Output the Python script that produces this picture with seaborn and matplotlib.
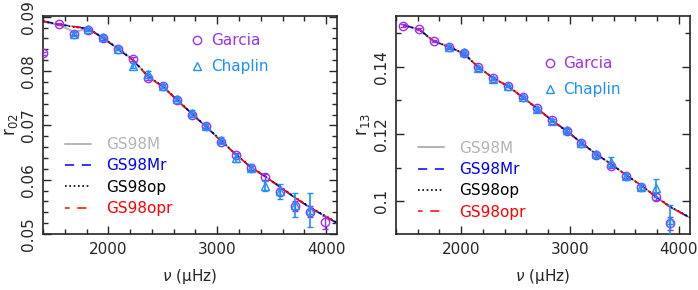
import numpy as np
import matplotlib
matplotlib.use("Agg")
import matplotlib.pyplot as plt
from matplotlib.lines import Line2D
from matplotlib.ticker import MultipleLocator, FormatStrFormatter
import seaborn as sns

# ---- data ----
# r02 panel
nu_g02 = [1403, 1550, 1685, 1817, 1955, 2093, 2231, 2363, 2498, 2630, 2764, 2900, 3035, 3169, 3307, 3440, 3574, 3712, 3850, 3988]
r02_g = [0.0833, 0.0887, 0.0869, 0.0876, 0.0860, 0.0840, 0.0822, 0.0787, 0.0772, 0.0747, 0.0719, 0.0699, 0.0670, 0.0645, 0.0622, 0.0605, 0.0578, 0.0551, 0.0541, 0.0522]
e02_g = [0.0003, 0.0002, 0.0002, 0.0002, 0.0002, 0.0002, 0.0003, 0.0003, 0.0003, 0.0003, 0.0003, 0.0003, 0.0003, 0.0004, 0.0004, 0.0005, 0.0007, 0.0009, 0.0010, 0.0012]
nu_c02 = [1685, 1817, 1955, 2093, 2231, 2363, 2498, 2630, 2764, 2900, 3035, 3169, 3307, 3440, 3574, 3712, 3850]
r02_c = [0.0868, 0.0877, 0.0863, 0.0841, 0.0810, 0.0795, 0.0773, 0.0748, 0.0723, 0.0698, 0.0674, 0.0640, 0.0622, 0.0588, 0.0579, 0.0553, 0.0544]
e02_c = [0.0003, 0.0003, 0.0003, 0.0003, 0.0005, 0.0005, 0.0004, 0.0004, 0.0005, 0.0005, 0.0005, 0.0007, 0.0006, 0.0009, 0.0014, 0.0022, 0.0031]

nu_m02 = [1400, 1550, 1685, 1817, 1955, 2093, 2231, 2363, 2498, 2630, 2764, 2900, 3035, 3169, 3307, 3440, 3574, 3712, 3850, 3988, 4110]
r02_M = [0.0891, 0.0885, 0.0872, 0.0878, 0.0861, 0.0841, 0.0820, 0.0790, 0.0772, 0.0747, 0.0722, 0.0697, 0.0672, 0.0647, 0.0623, 0.0606, 0.0587, 0.0567, 0.0549, 0.0533, 0.0519]
r02_Mr = [0.0892, 0.0886, 0.0882, 0.0878, 0.0860, 0.0840, 0.0819, 0.0790, 0.0772, 0.0747, 0.0722, 0.0697, 0.0672, 0.0647, 0.0623, 0.0606, 0.0587, 0.0567, 0.0549, 0.0533, 0.0519]
r02_op = [0.0891, 0.0886, 0.0881, 0.0878, 0.0861, 0.0841, 0.0820, 0.0791, 0.0772, 0.0748, 0.0722, 0.0698, 0.0672, 0.0647, 0.0624, 0.0606, 0.0588, 0.0568, 0.0550, 0.0534, 0.0520]
r02_opr = [0.0892, 0.0886, 0.0882, 0.0878, 0.0860, 0.0840, 0.0819, 0.0790, 0.0771, 0.0747, 0.0721, 0.0697, 0.0671, 0.0647, 0.0623, 0.0606, 0.0587, 0.0567, 0.0549, 0.0533, 0.0519]

# r13 panel
nu_g13 = [1470, 1615, 1747, 1886, 2024, 2157, 2296, 2430, 2566, 2695, 2831, 2970, 3102, 3240, 3379, 3517, 3649, 3788, 3923]
r13_g = [0.1522, 0.1512, 0.1477, 0.1458, 0.1440, 0.1398, 0.1365, 0.1343, 0.1309, 0.1277, 0.1241, 0.1209, 0.1172, 0.1136, 0.1104, 0.1075, 0.1041, 0.1013, 0.0934]
e13_g = [0.0004, 0.0004, 0.0004, 0.0004, 0.0004, 0.0004, 0.0004, 0.0004, 0.0004, 0.0004, 0.0004, 0.0005, 0.0005, 0.0005, 0.0006, 0.0007, 0.0008, 0.0010, 0.0020]
nu_c13 = [1886, 2024, 2157, 2296, 2430, 2566, 2695, 2831, 2970, 3102, 3240, 3379, 3517, 3649, 3788, 3923]
r13_c = [0.1460, 0.1444, 0.1396, 0.1364, 0.1343, 0.1310, 0.1274, 0.1239, 0.1211, 0.1173, 0.1139, 0.1117, 0.1074, 0.1042, 0.1038, 0.0944]
e13_c = [0.0004, 0.0005, 0.0004, 0.0004, 0.0004, 0.0004, 0.0005, 0.0005, 0.0006, 0.0006, 0.0007, 0.0015, 0.0008, 0.0010, 0.0027, 0.0045]

nu_m13 = [1470, 1615, 1747, 1886, 2024, 2157, 2296, 2430, 2566, 2695, 2831, 2970, 3102, 3240, 3379, 3517, 3649, 3788, 3923, 4110]
r13_M = [0.1524, 0.1511, 0.1475, 0.1462, 0.1436, 0.1401, 0.1366, 0.1342, 0.1309, 0.1276, 0.1241, 0.1208, 0.1174, 0.1140, 0.1110, 0.1077, 0.1048, 0.1013, 0.0982, 0.0949]
r13_Mr = [0.1524, 0.1511, 0.1477, 0.1458, 0.1441, 0.1398, 0.1366, 0.1342, 0.1309, 0.1277, 0.1241, 0.1209, 0.1174, 0.1140, 0.1110, 0.1077, 0.1048, 0.1013, 0.0982, 0.0949]
r13_op = [0.1524, 0.1511, 0.1476, 0.1459, 0.1440, 0.1399, 0.1366, 0.1343, 0.1309, 0.1276, 0.1241, 0.1208, 0.1175, 0.1140, 0.1110, 0.1077, 0.1048, 0.1014, 0.0983, 0.0950]
r13_opr = [0.1524, 0.1511, 0.1477, 0.1458, 0.1441, 0.1398, 0.1366, 0.1342, 0.1309, 0.1277, 0.1241, 0.1209, 0.1174, 0.1140, 0.1110, 0.1077, 0.1048, 0.1013, 0.0982, 0.0949]

model_names = ["GS98M", "GS98Mr", "GS98op", "GS98opr"]
model_colors = ["#b4b4b4", "#0000ff", "#000000", "#ff0000"]
model_styles = ["-", (0, (6, 5)), (0, (1, 1.6)), (3, (6, 5))]
model_widths = [1.4, 1.1, 1.2, 1.1]
c_garcia = "#9a32f0"
c_chaplin = "#1e90ff"

sns.set_style("ticks")
plt.rcParams["font.family"] = ["DejaVu Sans"]
plt.rcParams["font.size"] = 11
plt.rcParams["mathtext.fontset"] = "dejavusans"

fig = plt.figure(figsize=(6.98, 2.90), dpi=100)
ax1 = fig.add_axes([0.0616, 0.193, 0.4212, 0.753])
ax2 = fig.add_axes([0.567, 0.193, 0.4212, 0.753])


def panel(ax, nu_m, models, nu_g, rg, eg, nu_c, rc, ec, ylim, ymaj, ymin, fmt, ylab, leg1_y, leg2_y):
    for y, col, ls, lw in zip(models, model_colors, model_styles, model_widths):
        sns.lineplot(x=nu_m, y=y, ax=ax, color=col, linestyle=ls, linewidth=lw,
                     sort=False, legend=False, zorder=2)
    ax.errorbar(nu_g, rg, yerr=eg, fmt="o", ms=6, mfc="none", mec=c_garcia,
                mew=1.0, ecolor=c_garcia, elinewidth=1.0, capsize=2.5, zorder=3)
    ax.errorbar(nu_c, rc, yerr=ec, fmt="^", ms=5.5, mfc="none", mec=c_chaplin,
                mew=1.0, ecolor=c_chaplin, elinewidth=1.2, capsize=2.5, zorder=4)

    ax.set_xlim(1400, 4100)
    ax.set_ylim(*ylim)
    ax.xaxis.set_major_locator(MultipleLocator(1000))
    ax.xaxis.set_minor_locator(MultipleLocator(200))
    ax.yaxis.set_major_locator(MultipleLocator(ymaj))
    ax.yaxis.set_minor_locator(MultipleLocator(ymin))
    ax.yaxis.set_major_formatter(FormatStrFormatter(fmt))
    ax.tick_params(which="both", direction="in", top=True, right=True, width=1.0)
    ax.tick_params(which="major", length=6)
    ax.tick_params(which="minor", length=3.5)
    ax.tick_params(axis="x", pad=6)
    ax.tick_params(axis="y", labelrotation=90, pad=5)
    for lab in ax.get_yticklabels():
        lab.set_va("center")
    for sp in ax.spines.values():
        sp.set_linewidth(1.2)
    ax.set_xlabel("$\\nu$ (μHz)", labelpad=7)
    ax.set_ylabel(r"r$_{02}$" if ylab == "02" else r"r$_{13}$", labelpad=1, fontsize=12)

    h1 = [Line2D([], [], marker="o", ls="none", ms=6, mfc="none", mec=c_garcia, mew=1.0),
          Line2D([], [], marker="^", ls="none", ms=5.5, mfc="none", mec=c_chaplin, mew=1.0)]
    leg1 = ax.legend(h1, ["Garcia", "Chaplin"], loc="upper left", bbox_to_anchor=(0.503, leg1_y),
                     frameon=False, handlelength=0.8, handletextpad=0.5, labelspacing=0.72,
                     borderpad=0, borderaxespad=0, labelcolor=[c_garcia, c_chaplin])
    ax.add_artist(leg1)
    h2 = [Line2D([], [], color=c, ls=s, lw=w) for c, s, w in zip(model_colors, model_styles, model_widths)]
    ax.legend(h2, model_names, loc="upper left", bbox_to_anchor=(0.074, leg2_y),
              frameon=False, handlelength=1.75, handletextpad=0.95, labelspacing=0.42,
              borderpad=0, borderaxespad=0, labelcolor=model_colors)


panel(ax1, nu_m02, [r02_M, r02_Mr, r02_op, r02_opr], nu_g02, r02_g, e02_g, nu_c02, r02_c, e02_c,
      (0.05, 0.0902), 0.01, 0.002, "%g", "02", 0.92, 0.445)
panel(ax2, nu_m13, [r13_M, r13_Mr, r13_op, r13_opr], nu_g13, r13_g, e13_g, nu_c13, r13_c, e13_c,
      (0.0902, 0.1552), 0.02, 0.01, "%g", "13", 0.815, 0.428)

fig.savefig("out.png", dpi=100)
